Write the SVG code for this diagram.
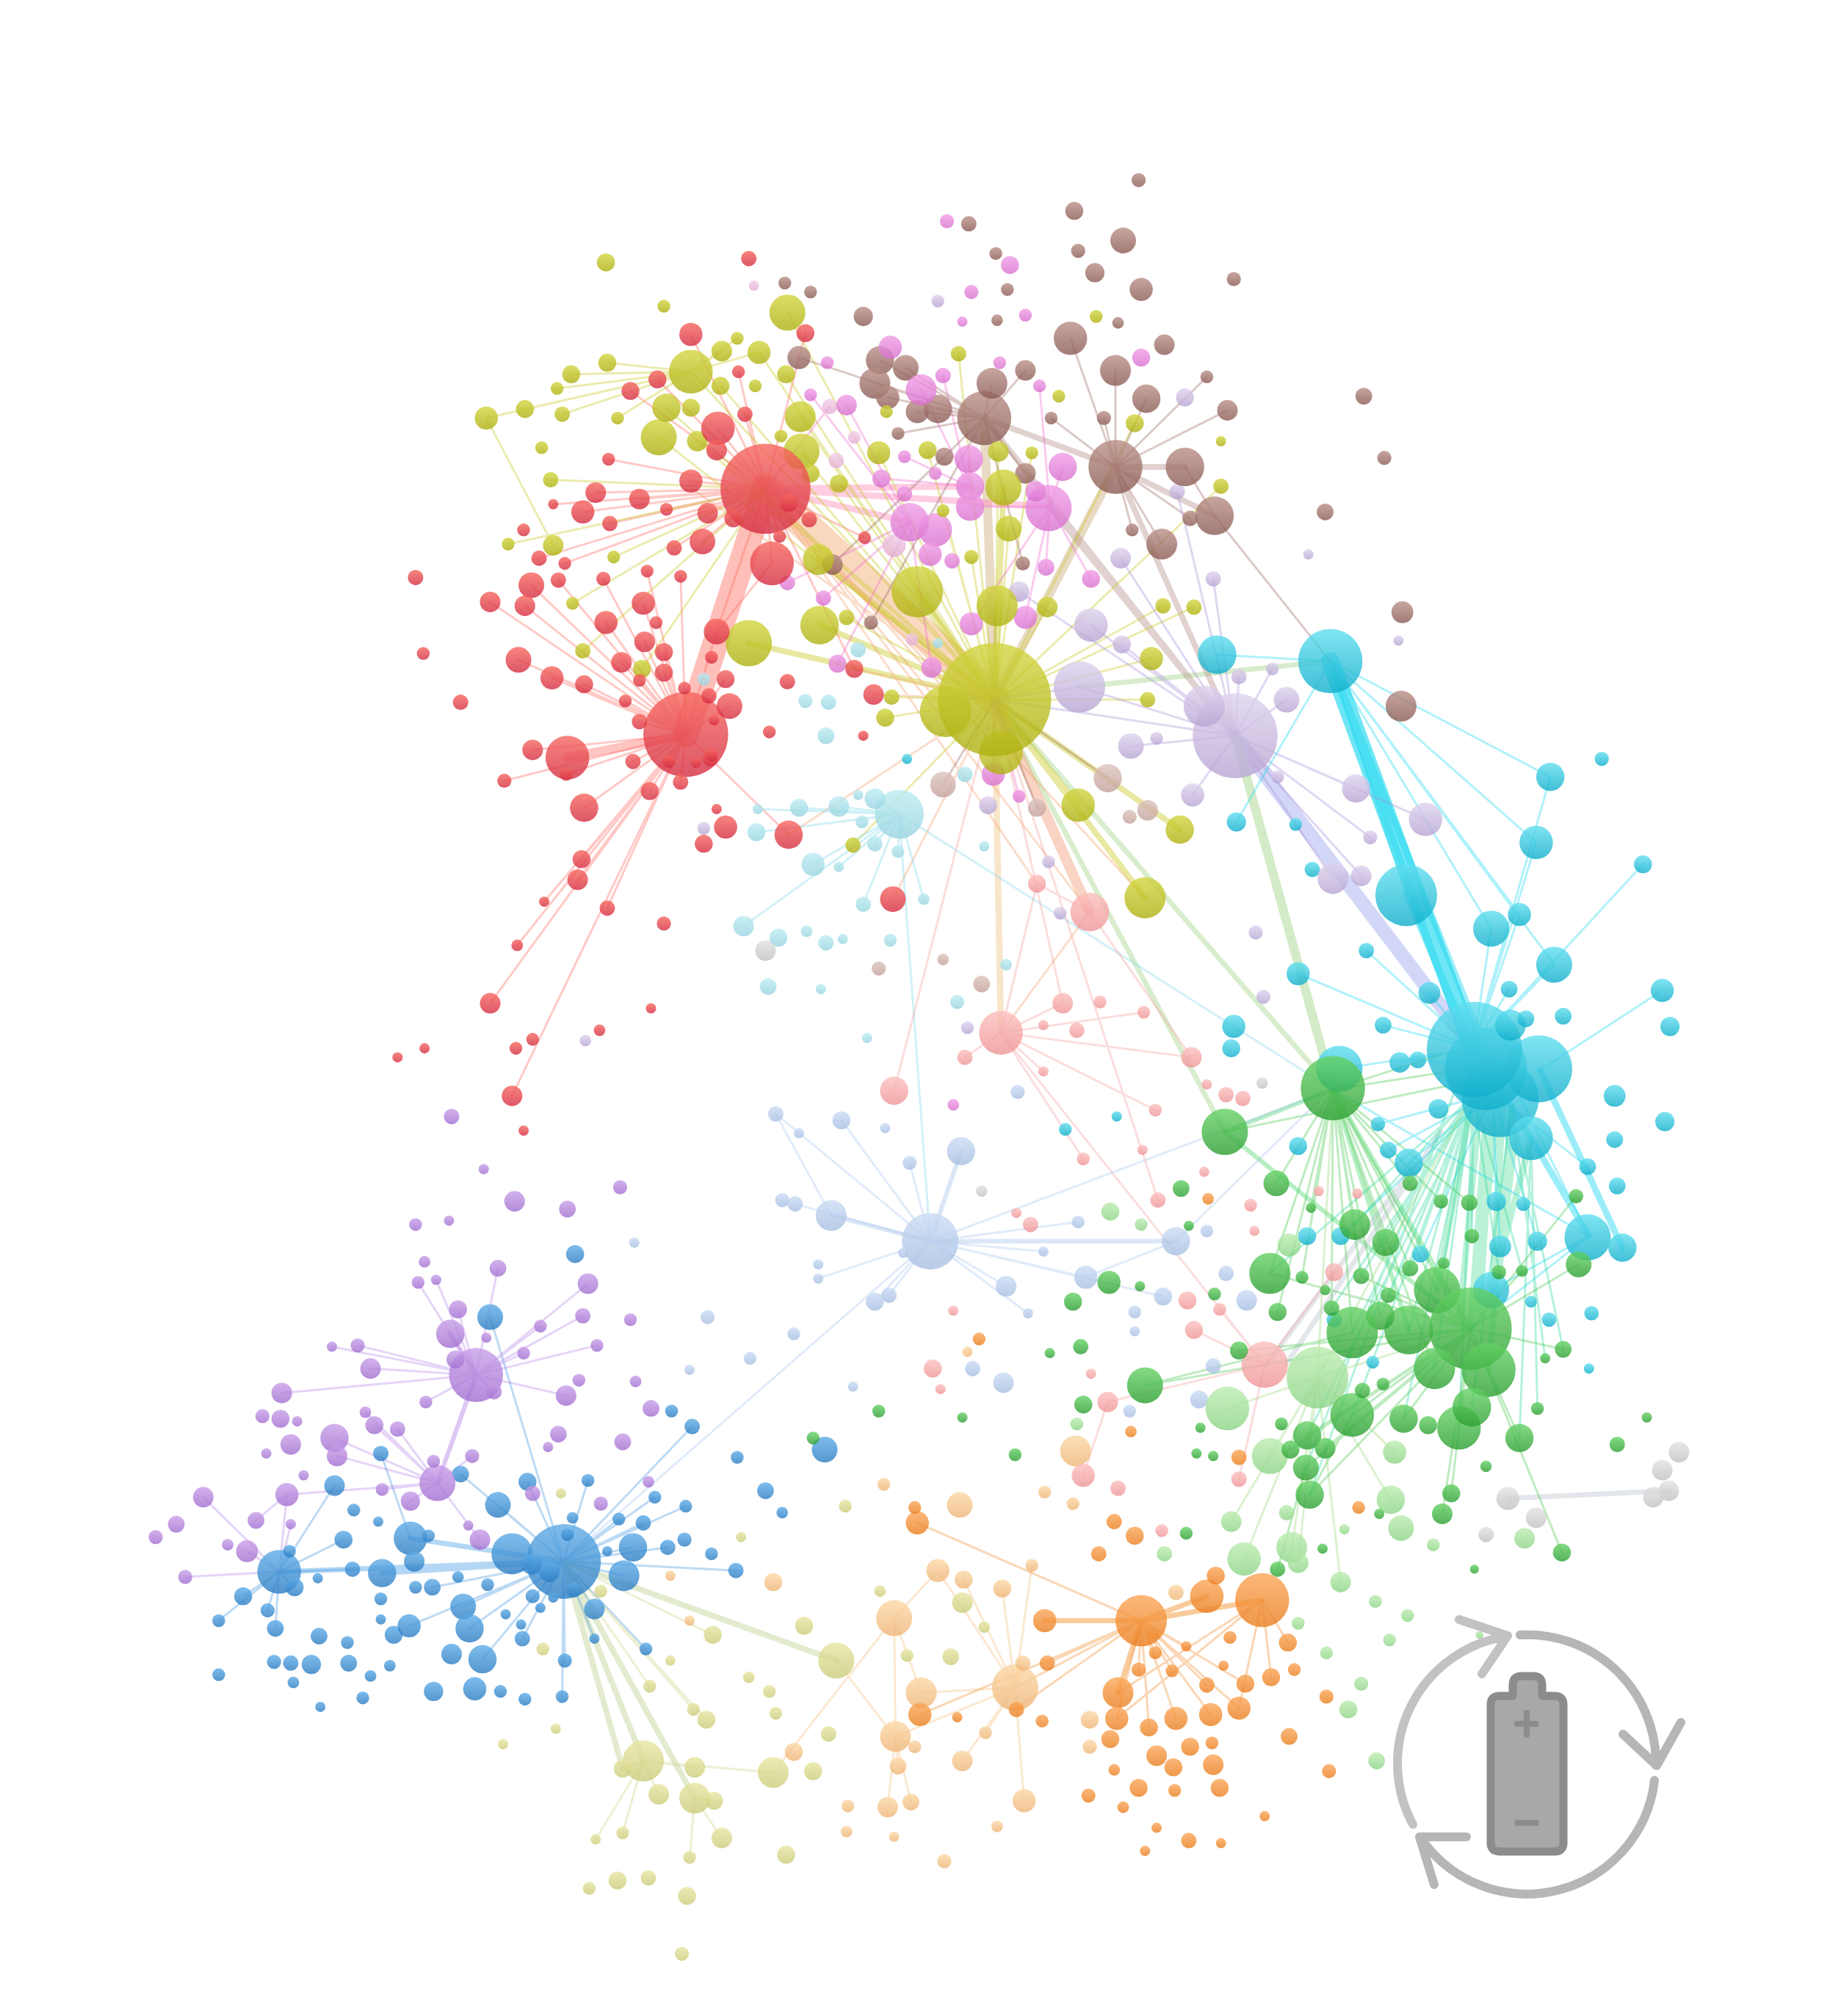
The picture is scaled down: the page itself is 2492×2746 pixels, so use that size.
<svg xmlns="http://www.w3.org/2000/svg" width="2492" height="2746" viewBox="0 0 2492 2746">
<style>
circle{fill-opacity:.8}
.r{fill:url(#gr)}.y{fill:url(#gy)}.p{fill:url(#gp)}.q{fill:url(#gq)}.b{fill:url(#gb)}.c{fill:url(#gc)}.l{fill:url(#gl)}.t{fill:url(#gt)}.n{fill:url(#gn)}.d{fill:url(#gd)}.g{fill:url(#gg)}.k{fill:url(#gk)}.s{fill:url(#gs)}.v{fill:url(#gv)}.h{fill:url(#gh)}.u{fill:url(#gu)}.m{fill:url(#gm)}.w{fill:url(#gw)}.o{fill:url(#go)}
#edges path{fill:none;stroke-linecap:round;stroke-opacity:.36;stroke-width:1.7}
.icon{fill:none;stroke:#b6b6b6;stroke-width:12;stroke-linecap:round;stroke-linejoin:round}
</style>
<defs>
<linearGradient id="gr" x1="0" y1="0" x2="0" y2="1"><stop offset="0" stop-color="#f7665e"/><stop offset="1" stop-color="#d42c40"/></linearGradient>
<linearGradient id="gy" x1="0" y1="0" x2="0" y2="1"><stop offset="0" stop-color="#d2d540"/><stop offset="1" stop-color="#aeb010"/></linearGradient>
<linearGradient id="gp" x1="0" y1="0" x2="0" y2="1"><stop offset="0" stop-color="#f09ce6"/><stop offset="1" stop-color="#d870ce"/></linearGradient>
<linearGradient id="gq" x1="0" y1="0" x2="0" y2="1"><stop offset="0" stop-color="#f2cee8"/><stop offset="1" stop-color="#e4acd6"/></linearGradient>
<linearGradient id="gb" x1="0" y1="0" x2="0" y2="1"><stop offset="0" stop-color="#b98f86"/><stop offset="1" stop-color="#8a5a54"/></linearGradient>
<linearGradient id="gc" x1="0" y1="0" x2="0" y2="1"><stop offset="0" stop-color="#dcc2bc"/><stop offset="1" stop-color="#c2a09a"/></linearGradient>
<linearGradient id="gl" x1="0" y1="0" x2="0" y2="1"><stop offset="0" stop-color="#ded2ee"/><stop offset="1" stop-color="#b6a4d2"/></linearGradient>
<linearGradient id="gt" x1="0" y1="0" x2="0" y2="1"><stop offset="0" stop-color="#bcecf2"/><stop offset="1" stop-color="#98d4e0"/></linearGradient>
<linearGradient id="gn" x1="0" y1="0" x2="0" y2="1"><stop offset="0" stop-color="#60deef"/><stop offset="1" stop-color="#10aecb"/></linearGradient>
<linearGradient id="gd" x1="0" y1="0" x2="0" y2="1"><stop offset="0" stop-color="#66d266"/><stop offset="1" stop-color="#2a9e30"/></linearGradient>
<linearGradient id="gg" x1="0" y1="0" x2="0" y2="1"><stop offset="0" stop-color="#bcecb0"/><stop offset="1" stop-color="#8cd486"/></linearGradient>
<linearGradient id="gk" x1="0" y1="0" x2="0" y2="1"><stop offset="0" stop-color="#fcc0be"/><stop offset="1" stop-color="#ee9496"/></linearGradient>
<linearGradient id="gs" x1="0" y1="0" x2="0" y2="1"><stop offset="0" stop-color="#cadcf4"/><stop offset="1" stop-color="#a8bee2"/></linearGradient>
<linearGradient id="gv" x1="0" y1="0" x2="0" y2="1"><stop offset="0" stop-color="#e2e2e2"/><stop offset="1" stop-color="#c0c0c0"/></linearGradient>
<linearGradient id="gh" x1="0" y1="0" x2="0" y2="1"><stop offset="0" stop-color="#5eace8"/><stop offset="1" stop-color="#2a7cc2"/></linearGradient>
<linearGradient id="gu" x1="0" y1="0" x2="0" y2="1"><stop offset="0" stop-color="#c89ee8"/><stop offset="1" stop-color="#a06ed0"/></linearGradient>
<linearGradient id="gm" x1="0" y1="0" x2="0" y2="1"><stop offset="0" stop-color="#e6e6a2"/><stop offset="1" stop-color="#cbcb7a"/></linearGradient>
<linearGradient id="gw" x1="0" y1="0" x2="0" y2="1"><stop offset="0" stop-color="#fcd8a6"/><stop offset="1" stop-color="#eeb476"/></linearGradient>
<linearGradient id="go" x1="0" y1="0" x2="0" y2="1"><stop offset="0" stop-color="#fba658"/><stop offset="1" stop-color="#ea7e1e"/></linearGradient>
</defs>
<g transform="scale(1.752)">
<g id="edges">
<path stroke="#ff9c94" style="stroke-width:20;stroke-opacity:.65" d="M533 571L595 380"/>
<path stroke="#f4b888" style="stroke-width:24;stroke-opacity:.55" d="M595 380L773 544"/>
<path stroke="#ff8c84" style="stroke-width:7;stroke-opacity:.5" d="M533 571L441 589"/>
<path stroke="#20d8f0" style="stroke-width:14;stroke-opacity:.65" d="M1034 514L1145 815"/>
<path stroke="#a8b0f0" style="stroke-width:11;stroke-opacity:.5" d="M960 572L1145 815"/>
<path stroke="#20d8f0" style="stroke-width:5;stroke-opacity:.45" d="M1034 514L1168 850M1034 514L1145 830M1093 696L1145 815M1145 815L1190 885M1190 885L1235 961M1197 832L1261 970"/>
<path stroke="#a8d890" style="stroke-width:7;stroke-opacity:.5" d="M960 572L1036 847"/>
<path stroke="#a8d890" style="stroke-width:4;stroke-opacity:.45" d="M773 544L1036 847M773 544L952 880M839 534L1034 514"/>
<path stroke="#f0c88c" style="stroke-width:5;stroke-opacity:.45" d="M773 544L778 803"/>
<path stroke="#f4a888" style="stroke-width:8;stroke-opacity:.5" d="M773 544L847 709"/>
<path stroke="#c8c820" style="stroke-width:4.5;stroke-opacity:.42" d="M773 544L890 698M773 544L917 645M773 544L838 626M773 544L713 460M773 544L775 471M773 544L637 486M773 544L582 500M773 544L636 435M773 544L780 379"/>
<path stroke="#c8a870" style="stroke-width:7;stroke-opacity:.42" d="M765 325L773 544M867 363L773 544"/>
<path stroke="#ff88b8" style="stroke-width:5;stroke-opacity:.42" d="M595 380L816 394M595 380L754 378M595 380L707 406"/>
<path stroke="#b89490" style="stroke-width:4.5;stroke-opacity:.42" d="M867 363L765 325M867 363L921 363M867 363L944 401M816 394L960 572M867 363L960 572M765 325L960 572"/>
<path stroke="#b8d0f0" style="stroke-width:3.5;stroke-opacity:.5" d="M723 965L646 945M723 965L914 965M723 965L747 895"/>
<path stroke="#68b0ea" style="stroke-width:4;stroke-opacity:.5" d="M217 1222L438 1214M398 1208L438 1214M297 1223L438 1214M319 1196L438 1214"/>
<path stroke="#c8d8a0" style="stroke-width:4.5;stroke-opacity:.5" d="M438 1214L650 1291M438 1214L500 1369M438 1214L540 1398M438 1214L484 1375"/>
<path stroke="#c090e8" style="stroke-width:3.5;stroke-opacity:.5" d="M370 1069L340 1153M370 1069L350 1037"/>
<path stroke="#f49838" style="stroke-width:4;stroke-opacity:.5" d="M887 1260L981 1244M887 1260L938 1241M887 1260L869 1316M887 1260L812 1260"/>
<path stroke="#40d890" style="stroke-width:5;stroke-opacity:.36" d="M1166 854L1143 1033M1157 840L1143 1033M1145 850L1117 1003M1175 860L1157 1065M1150 860L1135 1020M1160 860L1150 1020M1168 860L1160 1005M1178 880L1165 990M1190 885L1160 1000"/>
<path stroke="#50d870" style="stroke-width:3.5;stroke-opacity:.42" d="M952 880L1036 847M1036 847L1143 1033M1036 847L1095 1034M952 880L1143 1033"/>
<path stroke="#c8d0d8" style="stroke-width:4;stroke-opacity:.5" d="M1100 905L985 1060M1120 880L1000 1060M1172 1165L1297 1159"/>
<path stroke="#ff6860" d="M533 571L454 628M533 571L414 583M533 571L505 615M533 571L452 668M533 571L449 684M533 571L423 701M533 571L402 735M533 571L381 780M533 571L472 706M533 571L398 852M533 571L403 513M533 571L429 527M533 571L454 532M533 571L471 484M533 571L500 469M533 571L501 499M533 571L483 515M533 571L516 507M533 571L516 523M533 571L497 529M533 571L486 545M533 571L497 561M533 571L532 535M533 571L529 448M533 571L503 444M533 571L469 450M533 571L413 455M533 571L381 468M533 571L434 451M533 571L408 471M533 571L567 549M533 571L557 491M533 571L564 528M533 571L613 649M533 571L492 592M533 571L529 608M533 571L440 602M533 571L392 607M595 380L600 438M595 380L558 333M595 380L537 374M595 380L537 260M595 380L490 304M595 380L511 295M595 380L579 322M595 380L626 259M595 380L497 388M595 380L453 398M595 380L463 383M595 380L546 421M595 380L550 399M595 380L518 396M595 380L613 391M595 380L629 404M595 380L606 417M595 380L664 520M595 380L672 418M595 380L473 357M595 380L474 407M595 380L430 392M595 380L419 434M595 380L557 491M595 380L524 426M595 380L574 289M595 380L439 438M600 438L557 491"/>
<path stroke="#f4a070" d="M613 649L773 544M694 699L773 544M847 709L778 803M773 544L664 520M773 544L679 540M595 380L778 585M595 380L735 553M595 380L806 687M595 380L847 709M773 544L538 380M595 380L890 698"/>
<path stroke="#c8c820" d="M773 544L623 351M773 544L622 324M773 544L537 289M773 544L612 243M773 544L512 340M773 544L653 376M773 544L683 352M773 544L721 350M773 544L776 351M773 544L784 411M773 544L802 352M773 544L882 329M773 544L949 378M773 544L904 471M773 544L928 472M773 544L895 512M773 544L892 544M773 544L814 472M773 544L693 542M773 544L688 558M773 544L663 657M773 544L745 275M773 544L518 317M773 544L542 343M773 544L560 300M773 544L590 274M773 544L658 480M773 544L733 397M773 544L755 433M537 289L472 282M537 289L444 291M537 289L433 302M537 289L408 318M537 289L378 325M537 289L437 322M537 289L480 325M537 289L561 273M537 289L590 274M537 289L573 263M595 380L428 373M595 380L395 423M378 325L430 424M595 380L445 469M595 380L477 433M595 380L453 506M595 380L499 520M773 544L611 291"/>
<path stroke="#f070d0" d="M816 394L826 363M816 394L754 394M816 394L813 441M816 394L848 450M816 394L797 480M816 394L755 485M753 378L753 357M753 378L716 303M753 378L703 355M753 378L685 372M753 378L733 292M816 394L808 300M707 406L658 315M707 406L630 307M707 406L640 465M707 406L612 453M707 406L651 516M707 406L724 519M773 544L772 602M773 544L792 619M595 380L645 316"/>
<path stroke="#9a6a60" d="M867 363L891 310M867 363L867 288M867 363L832 263M867 363L858 325M867 363L817 325M867 363L938 293M867 363L954 319M867 363L903 423M867 363L880 412M867 363L925 403M765 325L771 298M765 325L797 288M765 325L729 318M765 325L713 320M765 325L690 309M765 325L704 286M765 325L680 298M765 325L684 280M765 325L621 278M765 325L698 337M765 325L734 355M765 325L797 368M765 325L795 438M765 325L647 439M765 325L677 484M921 363L944 401M944 401L1034 514M773 544L733 610M773 544L806 628M773 544L861 605"/>
<path stroke="#a890d8" d="M960 572L936 549M960 572L1000 544M960 572L848 486M960 572L879 580M960 572L927 618M960 572L1054 613M960 572L1108 637M960 572L1036 683M960 572L1058 681M960 572L1065 651M960 572L993 604M960 572L963 526M960 572L989 520M960 572L872 501M960 572L871 434M960 572L915 382M960 572L943 450M960 572L792 460M839 534L773 544M839 534L960 572M960 572L773 544"/>
<path stroke="#80d8e8" d="M699 633L680 621M699 633L652 627M699 633L621 628M699 633L589 629M699 633L588 647M699 633L632 672M699 633L652 674M699 633L680 656M699 633L698 662M699 633L671 703M699 633L718 699M699 633L578 720M699 633L723 965M699 633L1036 847"/>
<path stroke="#20d8f0" d="M1034 514L1205 604M1034 514L1194 655M1034 514L1159 722M1034 514L1181 711M1034 514L1208 750M946 509L1034 514M1034 514L1093 696M1145 815L1205 604M1145 815L1194 655M1145 815L1181 711M1145 815L1159 722M1145 815L1208 750M1145 815L1277 672M1197 832L1292 770M1145 815L1062 739M1145 815L1111 772M1145 815L1173 769M1145 815L1186 792M1145 815L1075 797M1145 815L1088 826M1145 815L1041 831M1157 830L1102 824M1160 850L1095 904M1160 850L1079 894M1160 850L1071 874M1160 850L1163 934M1160 850L1166 969M1160 850L1195 965M1160 850L1234 907M1180 850L1235 961M1160 850L1104 975M1160 850L1042 961M1036 847L1235 961M1235 961L1143 1033M1235 961L1159 1003M1009 757L1145 815M961 639L1034 514"/>
<path stroke="#30d8a0" d="M1145 850L1143 934M1145 850L1120 934M1145 850L1096 920M1145 850L1144 961M1145 850L1077 966M1145 850L1053 952M1145 850L1122 982M1145 850L1096 986M1145 850L1058 992M1145 850L1051 1036M1145 850L1095 1034M1145 850L1073 1023M1145 850L1115 1064M1145 850L1079 1007M1145 850L1091 1103M1145 850L1051 1100M1145 850L1134 1110M1145 850L1165 989M1145 850L1183 988M1150 850L987 990M1150 850L1035 1017M1150 850L1016 1116M1175 860L1144 1094M1175 860L1215 1049M1130 850L1015 1141M1130 850L1018 1162M1175 860L1201 1056M1190 885L1195 1095M1190 885L1181 1118"/>
<path stroke="#48c850" d="M1036 847L1053 952M1036 847L1077 966M1036 847L1096 920M1036 847L1019 939M1036 847L992 920M1036 847L987 990M1036 847L1012 993M1036 847L1117 1003M1036 847L1051 1036M1036 847L1073 1023M1036 847L1115 1064M1036 847L1120 934M1036 847L1142 935M1036 847L1157 1065M1036 847L1058 992M1036 847L993 1020M1036 847L1096 986M1036 847L1035 1017M1145 830L1036 847M1120 820L1036 847M1145 840L952 880M1143 1033L1058 992M1143 1033L1079 1007M1143 1033L987 990M1143 1033L1016 1116M1143 1033L1015 1141M1143 1033L1018 1162M1143 1033L1051 1100M1143 1033L1091 1103M1143 1033L1134 1110M1143 1033L1181 1118M1143 1033L1121 1177M1143 1033L1214 1207M1143 1033L1128 1161M1143 1033L1225 930M1143 1033L1227 983M1143 1033L1183 988M1143 1033L1215 1049M1143 1033L890 1077M1143 1033L963 1050M1143 1033L1003 1127M1143 1033L1030 1126M1051 1036L890 1077M1051 1100L1018 1162M1015 1141L993 1220"/>
<path stroke="#9ad880" d="M1024 1071L954 1095M1024 1071L987 1132M1024 1071L967 1212M1024 1071L1004 1203M1024 1071L1009 1215M1024 1071L957 1183M1024 1071L1084 1129M1024 1071L1081 1166M1024 1071L1042 1230M1143 1033L1024 1071M1036 847L1024 1071M1145 850L1024 1071"/>
<path stroke="#f4a0a0" d="M778 803L806 687M778 803L826 780M778 803L750 822M778 803L811 833M778 803L889 787M778 803L926 822M778 803L898 863M778 803L842 901M778 803L983 1061M847 709L926 822M847 709L806 687M773 544L826 780M773 544L695 848M983 1061L928 1034M983 1061L1037 989M983 1061L948 1018M983 1061L861 1090M861 1090L842 1147M983 1061L963 1150M773 544L900 933"/>
<path stroke="#a8c8f0" d="M723 965L603 866M723 965L654 871M723 965L707 904M723 965L618 936M723 965L636 994M723 965L680 1012M723 965L691 1007M723 965L782 1000M723 965L799 1021M723 965L811 973M723 965L844 993M723 965L438 1214M723 965L838 950M914 965L1034 847M646 945L603 866M723 965L1036 847M914 965L844 993M723 965L904 1008"/>
<path stroke="#4898e0" d="M438 1214L381 1024M438 1214L457 1151M438 1214L481 1181M438 1214L500 1184M438 1214L509 1164M438 1214L533 1171M438 1214L519 1203M438 1214L492 1203M438 1214L485 1225M438 1214L462 1251M438 1214L462 1274M438 1214L502 1282M438 1214L439 1291M438 1214L437 1319M438 1214L406 1274M438 1214L375 1290M438 1214L365 1266M438 1214L360 1249M438 1214L387 1170M438 1214L410 1152M438 1214L358 1146M438 1214L336 1234M217 1222L189 1241M217 1222L208 1252M217 1222L229 1234M217 1222L214 1266M217 1222L260 1155M217 1222L267 1197M217 1222L274 1220M217 1222L225 1206M217 1222L170 1260M438 1214L572 1221M438 1214L538 1109M438 1214L318 1264M319 1196L296 1130"/>
<path stroke="#b888e8" d="M370 1069L354 1057M370 1069L356 1018M370 1069L387 986M370 1069L457 998M370 1069L453 1023M370 1069L420 1031M370 1069L407 1052M370 1069L464 1046M370 1069L288 1064M370 1069L278 1046M370 1069L258 1047M370 1069L325 997M370 1069L339 995M370 1069L384 1082M370 1069L440 1085M370 1069L331 1090M340 1153L260 1118M340 1153L262 1132M340 1153L291 1108M340 1153L309 1111M340 1153L284 1098M340 1153L367 1132M340 1153L319 1167M340 1153L373 1197M340 1153L297 1158M340 1153L223 1162M223 1162L199 1182M217 1222L158 1164M217 1222L192 1206M217 1222L144 1226M217 1222L223 1162M370 1069L219 1083M217 1222L226 1185"/>
<path stroke="#d0d488" d="M500 1369L484 1375M500 1369L512 1395M500 1369L484 1425M500 1369L540 1374M500 1369L601 1378M500 1369L463 1430M540 1398L555 1400M540 1398L561 1429M540 1398L536 1444M438 1214L554 1271M438 1214L505 1311M438 1214L549 1337M438 1214L539 1329"/>
<path stroke="#f4c080" d="M789 1312L716 1316M789 1312L795 1293M789 1312L729 1221M789 1312L749 1228M789 1312L779 1235M789 1312L802 1217M789 1312L796 1400M789 1312L766 1347M789 1312L748 1369M789 1312L696 1350M695 1258L729 1221M695 1258L716 1316M695 1258L696 1350M695 1258L601 1378M696 1350L690 1405M696 1350L708 1401M696 1350L698 1373M696 1350L711 1358M650 1291L695 1350"/>
<path stroke="#f08c30" d="M887 1260L713 1184M887 1260L885 1298M887 1260L898 1285M887 1260L911 1299M887 1260L922 1280M887 1260L938 1310M887 1260L968 1309M887 1260L963 1328M887 1260L941 1333M887 1260L914 1336M887 1260L893 1343M887 1260L868 1336M981 1244L869 1316M981 1244L1001 1277M981 1244L963 1328M981 1244L868 1336M981 1244L988 1304M887 1260L814 1293M887 1260L789 1312M887 1260L789 1329M887 1260L715 1333"/>
</g>
<g class="h">
<g id="h1"><circle cx="438" cy="1214" r="29"/></g><g id="h2"><circle cx="217" cy="1222" r="17"/></g><g id="h3"><circle cx="398" cy="1208" r="16"/></g><g id="h4"><circle cx="319" cy="1196" r="13"/></g><g id="h5"><circle cx="297" cy="1223" r="11"/></g><g id="h6"><circle cx="485" cy="1225" r="12"/></g><g id="h7"><circle cx="492" cy="1203" r="11"/></g><g id="h8"><circle cx="387" cy="1170" r="10"/></g><g id="h9"><circle cx="410" cy="1152" r="7"/></g><g id="h10"><circle cx="457" cy="1151" r="5"/></g><g id="h11"><circle cx="481" cy="1181" r="5"/></g><g id="h12"><circle cx="500" cy="1184" r="6"/></g><g id="h13"><circle cx="509" cy="1164" r="5"/></g><g id="h14"><circle cx="533" cy="1171" r="5"/></g><g id="h15"><circle cx="519" cy="1203" r="6"/></g><g id="h16"><circle cx="532" cy="1197" r="5.5"/></g><g id="h17"><circle cx="553" cy="1208" r="5"/></g><g id="h18"><circle cx="572" cy="1221" r="6"/></g><g id="h19"><circle cx="608" cy="1176" r="4.5"/></g><g id="h20"><circle cx="595" cy="1159" r="6.5"/></g><g id="h21"><circle cx="641" cy="1127" r="10"/></g><g id="h22"><circle cx="573" cy="1133" r="5"/></g><g id="h23"><circle cx="538" cy="1109" r="6"/></g><g id="h24"><circle cx="522" cy="1097" r="5"/></g><g id="h25"><circle cx="447" cy="975" r="7"/></g><g id="h26"><circle cx="381" cy="1024" r="10"/></g><g id="h27"><circle cx="296" cy="1130" r="6"/></g><g id="h28"><circle cx="260" cy="1155" r="8"/></g><g id="h29"><circle cx="275" cy="1174" r="5"/></g><g id="h30"><circle cx="267" cy="1197" r="7"/></g><g id="h31"><circle cx="294" cy="1183" r="4"/></g><g id="h32"><circle cx="225" cy="1206" r="5"/></g><g id="h33"><circle cx="229" cy="1234" r="7"/></g><g id="h34"><circle cx="247" cy="1227" r="4"/></g><g id="h35"><circle cx="274" cy="1220" r="6"/></g><g id="h36"><circle cx="189" cy="1241" r="7"/></g><g id="h37"><circle cx="208" cy="1252" r="5.5"/></g><g id="h38"><circle cx="170" cy="1260" r="5"/></g><g id="h39"><circle cx="214" cy="1266" r="6.5"/></g><g id="h40"><circle cx="248" cy="1272" r="6.5"/></g><g id="h41"><circle cx="270" cy="1277" r="5"/></g><g id="h42"><circle cx="242" cy="1294" r="7.5"/></g><g id="h43"><circle cx="226" cy="1293" r="6"/></g><g id="h44"><circle cx="213" cy="1292" r="5.5"/></g><g id="h45"><circle cx="228" cy="1308" r="4.5"/></g><g id="h46"><circle cx="170" cy="1302" r="5"/></g><g id="h47"><circle cx="271" cy="1293" r="6.5"/></g><g id="h48"><circle cx="288" cy="1303" r="4.5"/></g><g id="h49"><circle cx="303" cy="1295" r="4.5"/></g><g id="h50"><circle cx="306" cy="1271" r="7"/></g><g id="h51"><circle cx="318" cy="1264" r="9"/></g><g id="h52"><circle cx="296" cy="1259" r="4"/></g><g id="h53"><circle cx="296" cy="1243" r="5"/></g><g id="h54"><circle cx="322" cy="1214" r="8"/></g><g id="h55"><circle cx="333" cy="1194" r="5"/></g><g id="h56"><circle cx="323" cy="1234" r="5"/></g><g id="h57"><circle cx="336" cy="1234" r="6.5"/></g><g id="h58"><circle cx="356" cy="1226" r="4.5"/></g><g id="h59"><circle cx="360" cy="1249" r="10"/></g><g id="h60"><circle cx="365" cy="1266" r="11"/></g><g id="h61"><circle cx="351" cy="1286" r="8"/></g><g id="h62"><circle cx="375" cy="1290" r="11"/></g><g id="h63"><circle cx="369" cy="1313" r="9"/></g><g id="h64"><circle cx="337" cy="1315" r="7.5"/></g><g id="h65"><circle cx="249" cy="1327" r="4"/></g><g id="h66"><circle cx="282" cy="1320" r="5"/></g><g id="h67"><circle cx="389" cy="1315" r="5"/></g><g id="h68"><circle cx="408" cy="1321" r="5"/></g><g id="h69"><circle cx="406" cy="1274" r="6"/></g><g id="h70"><circle cx="414" cy="1241" r="5.5"/></g><g id="h71"><circle cx="379" cy="1232" r="5"/></g><g id="h72"><circle cx="405" cy="1263" r="4"/></g><g id="h73"><circle cx="439" cy="1291" r="5.5"/></g><g id="h74"><circle cx="437" cy="1319" r="5"/></g><g id="h75"><circle cx="462" cy="1251" r="8"/></g><g id="h76"><circle cx="462" cy="1274" r="4"/></g><g id="h77"><circle cx="502" cy="1282" r="5"/></g><g id="h78"><circle cx="427" cy="1222" r="8"/></g><g id="h79"><circle cx="446" cy="1236" r="6"/></g><g id="h80"><circle cx="430" cy="1242" r="4"/></g><g id="h81"><circle cx="413" cy="1216" r="8"/></g><g id="h82"><circle cx="358" cy="1146" r="6.5"/></g><g id="h83"><circle cx="441" cy="1193" r="5"/></g><g id="h84"><circle cx="472" cy="1206" r="4"/></g><g id="h85"><circle cx="445" cy="1180" r="4.5"/></g><g id="h86"><circle cx="393" cy="1255" r="4"/></g><g id="h87"><circle cx="420" cy="1250" r="4"/></g>
</g>
<g class="u">
<g id="u1"><circle cx="370" cy="1069" r="21"/></g><g id="u2"><circle cx="340" cy="1153" r="14"/></g><g id="u3"><circle cx="350" cy="1037" r="11"/></g><g id="u4"><circle cx="356" cy="1018" r="7"/></g><g id="u5"><circle cx="378" cy="1040" r="4"/></g><g id="u6"><circle cx="354" cy="1057" r="7"/></g><g id="u7"><circle cx="407" cy="1052" r="5"/></g><g id="u8"><circle cx="420" cy="1031" r="5"/></g><g id="u9"><circle cx="453" cy="1023" r="6"/></g><g id="u10"><circle cx="457" cy="998" r="8"/></g><g id="u11"><circle cx="464" cy="1046" r="5"/></g><g id="u12"><circle cx="490" cy="1026" r="5"/></g><g id="u13"><circle cx="387" cy="986" r="6.5"/></g><g id="u14"><circle cx="339" cy="995" r="4"/></g><g id="u15"><circle cx="330" cy="981" r="4.5"/></g><g id="u16"><circle cx="325" cy="997" r="5"/></g><g id="u17"><circle cx="441" cy="940" r="6.5"/></g><g id="u18"><circle cx="400" cy="934" r="8"/></g><g id="u19"><circle cx="349" cy="949" r="4"/></g><g id="u20"><circle cx="323" cy="952" r="5"/></g><g id="u21"><circle cx="482" cy="923" r="5.5"/></g><g id="u22"><circle cx="376" cy="909" r="4"/></g><g id="u23"><circle cx="351" cy="868" r="6"/></g><g id="u24"><circle cx="288" cy="1064" r="8"/></g><g id="u25"><circle cx="278" cy="1046" r="5.5"/></g><g id="u26"><circle cx="258" cy="1047" r="4"/></g><g id="u27"><circle cx="219" cy="1083" r="8"/></g><g id="u28"><circle cx="204" cy="1101" r="5.5"/></g><g id="u29"><circle cx="218" cy="1103" r="7"/></g><g id="u30"><circle cx="231" cy="1105" r="4"/></g><g id="u31"><circle cx="226" cy="1123" r="8"/></g><g id="u32"><circle cx="207" cy="1130" r="4"/></g><g id="u33"><circle cx="260" cy="1118" r="11"/></g><g id="u34"><circle cx="262" cy="1132" r="8"/></g><g id="u35"><circle cx="284" cy="1098" r="4.5"/></g><g id="u36"><circle cx="291" cy="1108" r="7"/></g><g id="u37"><circle cx="309" cy="1111" r="6"/></g><g id="u38"><circle cx="331" cy="1090" r="5"/></g><g id="u39"><circle cx="384" cy="1082" r="6"/></g><g id="u40"><circle cx="440" cy="1085" r="8"/></g><g id="u41"><circle cx="450" cy="1073" r="5"/></g><g id="u42"><circle cx="434" cy="1115" r="6.5"/></g><g id="u43"><circle cx="484" cy="1121" r="6.5"/></g><g id="u44"><circle cx="426" cy="1125" r="4"/></g><g id="u45"><circle cx="506" cy="1095" r="6.5"/></g><g id="u46"><circle cx="494" cy="1074" r="4.5"/></g><g id="u47"><circle cx="504" cy="1152" r="4.5"/></g><g id="u48"><circle cx="467" cy="1169" r="5.5"/></g><g id="u49"><circle cx="414" cy="1161" r="6"/></g><g id="u50"><circle cx="367" cy="1132" r="5.5"/></g><g id="u51"><circle cx="337" cy="1136" r="5"/></g><g id="u52"><circle cx="319" cy="1167" r="7.5"/></g><g id="u53"><circle cx="373" cy="1197" r="8"/></g><g id="u54"><circle cx="364" cy="1186" r="4"/></g><g id="u55"><circle cx="297" cy="1158" r="5"/></g><g id="u56"><circle cx="236" cy="1147" r="4"/></g><g id="u57"><circle cx="223" cy="1162" r="9"/></g><g id="u58"><circle cx="199" cy="1182" r="6.5"/></g><g id="u59"><circle cx="226" cy="1185" r="4"/></g><g id="u60"><circle cx="158" cy="1164" r="8"/></g><g id="u61"><circle cx="137" cy="1185" r="6.5"/></g><g id="u62"><circle cx="121" cy="1195" r="5.5"/></g><g id="u63"><circle cx="177" cy="1201" r="4.5"/></g><g id="u64"><circle cx="192" cy="1206" r="8.5"/></g><g id="u65"><circle cx="144" cy="1226" r="5.5"/></g>
</g>
<g class="m">
<g id="m1"><circle cx="650" cy="1291" r="14"/></g><g id="m2"><circle cx="500" cy="1369" r="16"/></g><g id="m3"><circle cx="540" cy="1398" r="12"/></g><g id="m4"><circle cx="601" cy="1378" r="12"/></g><g id="m5"><circle cx="540" cy="1374" r="8"/></g><g id="m6"><circle cx="484" cy="1375" r="7"/></g><g id="m7"><circle cx="512" cy="1395" r="8"/></g><g id="m8"><circle cx="555" cy="1400" r="7"/></g><g id="m9"><circle cx="561" cy="1429" r="8"/></g><g id="m10"><circle cx="484" cy="1425" r="5"/></g><g id="m11"><circle cx="463" cy="1430" r="4"/></g><g id="m12"><circle cx="536" cy="1444" r="5"/></g><g id="m13"><circle cx="480" cy="1462" r="7"/></g><g id="m14"><circle cx="458" cy="1468" r="5"/></g><g id="m15"><circle cx="504" cy="1460" r="6"/></g><g id="m16"><circle cx="534" cy="1474" r="7"/></g><g id="m17"><circle cx="530" cy="1519" r="5.5"/></g><g id="m18"><circle cx="611" cy="1442" r="7"/></g><g id="m19"><circle cx="632" cy="1377" r="7"/></g><g id="m20"><circle cx="644" cy="1348" r="6"/></g><g id="m21"><circle cx="603" cy="1332" r="5"/></g><g id="m22"><circle cx="598" cy="1315" r="5"/></g><g id="m23"><circle cx="582" cy="1304" r="4.5"/></g><g id="m24"><circle cx="549" cy="1337" r="7"/></g><g id="m25"><circle cx="539" cy="1329" r="5"/></g><g id="m26"><circle cx="554" cy="1271" r="7"/></g><g id="m27"><circle cx="625" cy="1264" r="7"/></g><g id="m28"><circle cx="521" cy="1291" r="4"/></g><g id="m29"><circle cx="505" cy="1311" r="5"/></g><g id="m30"><circle cx="422" cy="1282" r="5"/></g><g id="m31"><circle cx="391" cy="1356" r="4"/></g><g id="m32"><circle cx="432" cy="1344" r="4"/></g><g id="m33"><circle cx="436" cy="1161" r="4"/></g><g id="m34"><circle cx="467" cy="1237" r="5"/></g><g id="m35"><circle cx="576" cy="1195" r="4"/></g><g id="m36"><circle cx="657" cy="1171" r="5"/></g><g id="m37"><circle cx="748" cy="1246" r="8"/></g><g id="m38"><circle cx="739" cy="1288" r="6.5"/></g><g id="m39"><circle cx="765" cy="1265" r="4.5"/></g><g id="m40"><circle cx="684" cy="1237" r="4.5"/></g><g id="m41"><circle cx="705" cy="1287" r="5"/></g>
</g>
<g class="w">
<g id="w1"><circle cx="695" cy="1258" r="14"/></g><g id="w2"><circle cx="789" cy="1312" r="18"/></g><g id="w3"><circle cx="696" cy="1350" r="12"/></g><g id="w4"><circle cx="716" cy="1316" r="12"/></g><g id="w5"><circle cx="729" cy="1221" r="9"/></g><g id="w6"><circle cx="749" cy="1228" r="7"/></g><g id="w7"><circle cx="746" cy="1170" r="10"/></g><g id="w8"><circle cx="779" cy="1235" r="7"/></g><g id="w9"><circle cx="802" cy="1217" r="5"/></g><g id="w10"><circle cx="687" cy="1154" r="5"/></g><g id="w11"><circle cx="601" cy="1230" r="7"/></g><g id="w12"><circle cx="521" cy="1225" r="4"/></g><g id="w13"><circle cx="536" cy="1260" r="4"/></g><g id="w14"><circle cx="617" cy="1362" r="7"/></g><g id="w15"><circle cx="659" cy="1404" r="5"/></g><g id="w16"><circle cx="658" cy="1424" r="4.5"/></g><g id="w17"><circle cx="690" cy="1405" r="8"/></g><g id="w18"><circle cx="708" cy="1401" r="6.5"/></g><g id="w19"><circle cx="695" cy="1428" r="4"/></g><g id="w20"><circle cx="698" cy="1373" r="6.5"/></g><g id="w21"><circle cx="711" cy="1358" r="5"/></g><g id="w22"><circle cx="748" cy="1369" r="8"/></g><g id="w23"><circle cx="766" cy="1347" r="5"/></g><g id="w24"><circle cx="796" cy="1400" r="9"/></g><g id="w25"><circle cx="775" cy="1420" r="4.5"/></g><g id="w26"><circle cx="734" cy="1447" r="5.5"/></g><g id="w27"><circle cx="795" cy="1293" r="6"/></g><g id="w28"><circle cx="836" cy="1128" r="12"/></g><g id="w29"><circle cx="812" cy="1160" r="5"/></g><g id="w30"><circle cx="834" cy="1169" r="5"/></g><g id="w31"><circle cx="847" cy="1337" r="7"/></g><g id="w32"><circle cx="847" cy="1358" r="5.5"/></g><g id="w33"><circle cx="752" cy="1051" r="4"/></g><g id="w34"><circle cx="914" cy="1238" r="6"/></g><g id="w35"><circle cx="897" cy="1270" r="4"/></g>
</g>
<g class="o">
<g id="o1"><circle cx="887" cy="1260" r="20"/></g><g id="o2"><circle cx="981" cy="1244" r="21"/></g><g id="o3"><circle cx="938" cy="1241" r="13"/></g><g id="o4"><circle cx="945" cy="1225" r="7"/></g><g id="o5"><circle cx="812" cy="1260" r="9"/></g><g id="o6"><circle cx="869" cy="1316" r="12"/></g><g id="o7"><circle cx="868" cy="1336" r="9"/></g><g id="o8"><circle cx="863" cy="1352" r="7"/></g><g id="o9"><circle cx="814" cy="1293" r="6"/></g><g id="o10"><circle cx="810" cy="1338" r="5"/></g><g id="o11"><circle cx="790" cy="1329" r="6"/></g><g id="o12"><circle cx="715" cy="1333" r="9"/></g><g id="o13"><circle cx="744" cy="1335" r="4"/></g><g id="o14"><circle cx="713" cy="1184" r="9"/></g><g id="o15"><circle cx="711" cy="1172" r="5"/></g><g id="o16"><circle cx="866" cy="1183" r="6"/></g><g id="o17"><circle cx="882" cy="1194" r="7"/></g><g id="o18"><circle cx="854" cy="1208" r="6"/></g><g id="o19"><circle cx="885" cy="1298" r="5.5"/></g><g id="o20"><circle cx="898" cy="1285" r="5"/></g><g id="o21"><circle cx="911" cy="1299" r="5"/></g><g id="o22"><circle cx="922" cy="1280" r="4"/></g><g id="o23"><circle cx="938" cy="1310" r="6"/></g><g id="o24"><circle cx="951" cy="1295" r="4"/></g><g id="o25"><circle cx="968" cy="1309" r="7"/></g><g id="o26"><circle cx="988" cy="1304" r="7"/></g><g id="o27"><circle cx="1006" cy="1298" r="5"/></g><g id="o28"><circle cx="1001" cy="1277" r="7"/></g><g id="o29"><circle cx="963" cy="1328" r="9"/></g><g id="o30"><circle cx="941" cy="1333" r="9"/></g><g id="o31"><circle cx="914" cy="1336" r="9"/></g><g id="o32"><circle cx="893" cy="1343" r="7"/></g><g id="o33"><circle cx="942" cy="1355" r="5"/></g><g id="o34"><circle cx="925" cy="1358" r="7"/></g><g id="o35"><circle cx="899" cy="1365" r="8"/></g><g id="o36"><circle cx="912" cy="1374" r="7"/></g><g id="o37"><circle cx="943" cy="1372" r="8"/></g><g id="o38"><circle cx="866" cy="1376" r="4.5"/></g><g id="o39"><circle cx="948" cy="1390" r="7"/></g><g id="o40"><circle cx="913" cy="1392" r="5"/></g><g id="o41"><circle cx="885" cy="1390" r="7"/></g><g id="o42"><circle cx="846" cy="1396" r="5.5"/></g><g id="o43"><circle cx="873" cy="1405" r="4.5"/></g><g id="o44"><circle cx="899" cy="1421" r="4"/></g><g id="o45"><circle cx="924" cy="1431" r="6"/></g><g id="o46"><circle cx="949" cy="1433" r="4"/></g><g id="o47"><circle cx="890" cy="1439" r="4"/></g><g id="o48"><circle cx="983" cy="1412" r="4"/></g><g id="o49"><circle cx="1033" cy="1377" r="5.5"/></g><g id="o50"><circle cx="1002" cy="1350" r="6.5"/></g><g id="o51"><circle cx="1031" cy="1319" r="5.5"/></g><g id="o52"><circle cx="1056" cy="1172" r="5"/></g><g id="o53"><circle cx="963" cy="1133" r="6"/></g><g id="o54"><circle cx="879" cy="1113" r="4.5"/></g><g id="o55"><circle cx="939" cy="932" r="4.5"/></g><g id="o56"><circle cx="761" cy="1041" r="5"/></g><g id="o57"><circle cx="956" cy="1273" r="5"/></g>
</g>
<g class="s">
<g id="s1"><circle cx="723" cy="965" r="22"/></g><g id="s2"><circle cx="646" cy="945" r="12"/></g><g id="s3"><circle cx="914" cy="965" r="11"/></g><g id="s4"><circle cx="747" cy="895" r="11"/></g><g id="s5"><circle cx="654" cy="871" r="7"/></g><g id="s6"><circle cx="603" cy="866" r="6"/></g><g id="s7"><circle cx="621" cy="881" r="4"/></g><g id="s8"><circle cx="688" cy="877" r="4"/></g><g id="s9"><circle cx="707" cy="904" r="5.5"/></g><g id="s10"><circle cx="608" cy="933" r="5.5"/></g><g id="s11"><circle cx="618" cy="936" r="6"/></g><g id="s12"><circle cx="702" cy="974" r="4"/></g><g id="s13"><circle cx="636" cy="983" r="4"/></g><g id="s14"><circle cx="636" cy="994" r="4"/></g><g id="s15"><circle cx="680" cy="1012" r="7"/></g><g id="s16"><circle cx="691" cy="1007" r="6"/></g><g id="s17"><circle cx="782" cy="1000" r="8"/></g><g id="s18"><circle cx="799" cy="1021" r="4"/></g><g id="s19"><circle cx="811" cy="973" r="4"/></g><g id="s20"><circle cx="838" cy="950" r="5"/></g><g id="s21"><circle cx="844" cy="993" r="9"/></g><g id="s22"><circle cx="882" cy="1020" r="5"/></g><g id="s23"><circle cx="904" cy="1008" r="7"/></g><g id="s24"><circle cx="953" cy="990" r="6"/></g><g id="s25"><circle cx="969" cy="1011" r="8"/></g><g id="s26"><circle cx="938" cy="957" r="5"/></g><g id="s27"><circle cx="780" cy="1075" r="8"/></g><g id="s28"><circle cx="756" cy="1064" r="6"/></g><g id="s29"><circle cx="663" cy="1078" r="4"/></g><g id="s30"><circle cx="583" cy="1056" r="5"/></g><g id="s31"><circle cx="617" cy="1037" r="5"/></g><g id="s32"><circle cx="550" cy="1024" r="5.5"/></g><g id="s33"><circle cx="536" cy="1065" r="4"/></g><g id="s34"><circle cx="493" cy="966" r="4"/></g><g id="s35"><circle cx="878" cy="1097" r="5"/></g><g id="s36"><circle cx="932" cy="1088" r="7"/></g><g id="s37"><circle cx="791" cy="849" r="5.5"/></g><g id="s38"><circle cx="943" cy="1062" r="6"/></g><g id="s39"><circle cx="882" cy="1035" r="4"/></g>
</g>
<g class="t">
<g id="t1"><circle cx="699" cy="633" r="19"/></g><g id="t2"><circle cx="680" cy="621" r="8"/></g><g id="t3"><circle cx="652" cy="627" r="8"/></g><g id="t4"><circle cx="621" cy="628" r="7"/></g><g id="t5"><circle cx="589" cy="629" r="4"/></g><g id="t6"><circle cx="588" cy="647" r="7"/></g><g id="t7"><circle cx="632" cy="672" r="9"/></g><g id="t8"><circle cx="652" cy="674" r="4"/></g><g id="t9"><circle cx="680" cy="656" r="6"/></g><g id="t10"><circle cx="698" cy="662" r="5"/></g><g id="t11"><circle cx="671" cy="703" r="6"/></g><g id="t12"><circle cx="718" cy="699" r="4.5"/></g><g id="t13"><circle cx="578" cy="720" r="8"/></g><g id="t14"><circle cx="605" cy="729" r="7"/></g><g id="t15"><circle cx="627" cy="724" r="4.5"/></g><g id="t16"><circle cx="642" cy="733" r="6"/></g><g id="t17"><circle cx="655" cy="730" r="4"/></g><g id="t18"><circle cx="692" cy="731" r="5"/></g><g id="t19"><circle cx="597" cy="767" r="6.5"/></g><g id="t20"><circle cx="638" cy="769" r="4"/></g><g id="t21"><circle cx="782" cy="750" r="4.5"/></g><g id="t22"><circle cx="744" cy="779" r="5.5"/></g><g id="t23"><circle cx="674" cy="807" r="4"/></g><g id="t24"><circle cx="626" cy="545" r="5.5"/></g><g id="t25"><circle cx="644" cy="546" r="6"/></g><g id="t26"><circle cx="642" cy="572" r="6.5"/></g><g id="t27"><circle cx="667" cy="505" r="6"/></g><g id="t28"><circle cx="729" cy="500" r="4"/></g><g id="t29"><circle cx="750" cy="602" r="6"/></g><g id="t30"><circle cx="765" cy="658" r="4"/></g><g id="t31"><circle cx="670" cy="639" r="5"/></g><g id="t32"><circle cx="667" cy="618" r="4"/></g><g id="t33"><circle cx="547" cy="528" r="5"/></g>
</g>
<g class="v">
<g id="v1"><circle cx="595" cy="739" r="8"/></g><g id="v2"><circle cx="981" cy="842" r="4.5"/></g><g id="v3"><circle cx="763" cy="926" r="4.5"/></g><g id="v4"><circle cx="1305" cy="1129" r="8"/></g><g id="v5"><circle cx="1292" cy="1143" r="8"/></g><g id="v6"><circle cx="1297" cy="1159" r="8"/></g><g id="v7"><circle cx="1285" cy="1164" r="8"/></g><g id="v8"><circle cx="1172" cy="1165" r="9"/></g><g id="v9"><circle cx="1194" cy="1180" r="8"/></g><g id="v10"><circle cx="1155" cy="1193" r="6"/></g>
</g>
<g class="k">
<g id="k1"><circle cx="778" cy="803" r="17"/></g><g id="k2"><circle cx="847" cy="709" r="15"/></g><g id="k3"><circle cx="983" cy="1061" r="18"/></g><g id="k4"><circle cx="695" cy="848" r="11"/></g><g id="k5"><circle cx="806" cy="687" r="7"/></g><g id="k6"><circle cx="826" cy="780" r="8"/></g><g id="k7"><circle cx="855" cy="779" r="5"/></g><g id="k8"><circle cx="837" cy="801" r="6"/></g><g id="k9"><circle cx="811" cy="797" r="4"/></g><g id="k10"><circle cx="750" cy="822" r="6"/></g><g id="k11"><circle cx="811" cy="833" r="4"/></g><g id="k12"><circle cx="889" cy="787" r="5"/></g><g id="k13"><circle cx="926" cy="822" r="8"/></g><g id="k14"><circle cx="938" cy="843" r="4"/></g><g id="k15"><circle cx="953" cy="851" r="6"/></g><g id="k16"><circle cx="966" cy="854" r="6"/></g><g id="k17"><circle cx="898" cy="863" r="5"/></g><g id="k18"><circle cx="888" cy="894" r="4"/></g><g id="k19"><circle cx="842" cy="901" r="5"/></g><g id="k20"><circle cx="936" cy="911" r="4"/></g><g id="k21"><circle cx="900" cy="933" r="6"/></g><g id="k22"><circle cx="790" cy="943" r="4"/></g><g id="k23"><circle cx="801" cy="952" r="6"/></g><g id="k24"><circle cx="972" cy="937" r="5"/></g><g id="k25"><circle cx="975" cy="957" r="4"/></g><g id="k26"><circle cx="1025" cy="926" r="4"/></g><g id="k27"><circle cx="1055" cy="928" r="4"/></g><g id="k28"><circle cx="1037" cy="989" r="7"/></g><g id="k29"><circle cx="948" cy="1018" r="5"/></g><g id="k30"><circle cx="928" cy="1034" r="7"/></g><g id="k31"><circle cx="741" cy="1019" r="4"/></g><g id="k32"><circle cx="725" cy="1064" r="7"/></g><g id="k33"><circle cx="731" cy="1080" r="4"/></g><g id="k34"><circle cx="861" cy="1090" r="8"/></g><g id="k35"><circle cx="842" cy="1147" r="9"/></g><g id="k36"><circle cx="869" cy="1157" r="6"/></g><g id="k37"><circle cx="848" cy="1068" r="4"/></g><g id="k38"><circle cx="903" cy="1190" r="5"/></g><g id="k39"><circle cx="963" cy="1150" r="6"/></g><g id="k40"><circle cx="923" cy="1011" r="7"/></g>
</g>
<g class="g">
<g id="g1"><circle cx="1024" cy="1071" r="24"/></g><g id="g2"><circle cx="954" cy="1095" r="17"/></g><g id="g3"><circle cx="987" cy="1132" r="14"/></g><g id="g4"><circle cx="967" cy="1212" r="13"/></g><g id="g5"><circle cx="1004" cy="1203" r="12"/></g><g id="g6"><circle cx="1009" cy="1215" r="8"/></g><g id="g7"><circle cx="957" cy="1183" r="8"/></g><g id="g8"><circle cx="1084" cy="1129" r="9"/></g><g id="g9"><circle cx="1081" cy="1166" r="11"/></g><g id="g10"><circle cx="1089" cy="1188" r="10"/></g><g id="g11"><circle cx="1042" cy="1230" r="8"/></g><g id="g12"><circle cx="1069" cy="1245" r="5"/></g><g id="g13"><circle cx="1094" cy="1256" r="5"/></g><g id="g14"><circle cx="1080" cy="1275" r="5"/></g><g id="g15"><circle cx="1031" cy="1285" r="5"/></g><g id="g16"><circle cx="1058" cy="1309" r="5.5"/></g><g id="g17"><circle cx="1048" cy="1329" r="7"/></g><g id="g18"><circle cx="1070" cy="1369" r="6.5"/></g><g id="g19"><circle cx="1009" cy="1262" r="5"/></g><g id="g20"><circle cx="1114" cy="1201" r="5"/></g><g id="g21"><circle cx="1185" cy="1196" r="8"/></g><g id="g22"><circle cx="1002" cy="968" r="9"/></g><g id="g23"><circle cx="863" cy="942" r="7"/></g><g id="g24"><circle cx="887" cy="952" r="5"/></g><g id="g25"><circle cx="837" cy="1107" r="5"/></g><g id="g26"><circle cx="905" cy="1208" r="6"/></g><g id="g27"><circle cx="1045" cy="1189" r="4"/></g><g id="g28"><circle cx="1000" cy="1176" r="6"/></g><g id="g29"><circle cx="1150" cy="1271" r="3"/></g>
</g>
<g class="n">
<g id="n1"><circle cx="1166" cy="854" r="30"/></g><g id="n2"><circle cx="1155" cy="831" r="32"/></g><g id="n3"><circle cx="1196" cy="831" r="26"/></g><g id="n4"><circle cx="1146" cy="816" r="37"/></g><g id="n5"><circle cx="1190" cy="885" r="17"/></g><g id="n6"><circle cx="1095" cy="904" r="11"/></g><g id="n7"><circle cx="1118" cy="862" r="7.6"/></g><g id="n8"><circle cx="1234" cy="962" r="18"/></g><g id="n9"><circle cx="1261" cy="970" r="11"/></g><g id="n10"><circle cx="1159" cy="1003" r="14"/></g><g id="n11"><circle cx="1111" cy="772" r="8.5"/></g><g id="n12"><circle cx="1173" cy="769" r="6.5"/></g><g id="n13"><circle cx="1174" cy="797" r="12"/></g><g id="n14"><circle cx="1186" cy="792" r="6.5"/></g><g id="n15"><circle cx="1215" cy="790" r="6.5"/></g><g id="n16"><circle cx="1208" cy="750" r="14"/></g><g id="n17"><circle cx="1292" cy="770" r="9"/></g><g id="n18"><circle cx="1298" cy="798" r="7.5"/></g><g id="n19"><circle cx="1255" cy="852" r="8.5"/></g><g id="n20"><circle cx="1294" cy="872" r="7.5"/></g><g id="n21"><circle cx="1255" cy="886" r="6.5"/></g><g id="n22"><circle cx="1234" cy="907" r="6.5"/></g><g id="n23"><circle cx="1257" cy="922" r="6.5"/></g><g id="n24"><circle cx="1163" cy="934" r="7.5"/></g><g id="n25"><circle cx="1184" cy="936" r="5.5"/></g><g id="n26"><circle cx="1166" cy="969" r="8.5"/></g><g id="n27"><circle cx="1195" cy="965" r="7.5"/></g><g id="n28"><circle cx="1104" cy="975" r="6.5"/></g><g id="n29"><circle cx="1042" cy="961" r="7"/></g><g id="n30"><circle cx="1071" cy="874" r="5.6"/></g><g id="n31"><circle cx="1079" cy="894" r="6.5"/></g><g id="n32"><circle cx="1075" cy="797" r="6.5"/></g><g id="n33"><circle cx="1088" cy="826" r="8"/></g><g id="n34"><circle cx="1102" cy="824" r="6.5"/></g><g id="n35"><circle cx="1041" cy="831" r="18"/></g><g id="n36"><circle cx="1190" cy="1012" r="4.6"/></g><g id="n37"><circle cx="1237" cy="1021" r="5.6"/></g><g id="n38"><circle cx="1204" cy="1026" r="5.6"/></g><g id="n39"><circle cx="1037" cy="1026" r="6"/></g><g id="n40"><circle cx="1205" cy="604" r="11"/></g><g id="n41"><circle cx="1245" cy="590" r="5.5"/></g><g id="n42"><circle cx="1194" cy="655" r="13"/></g><g id="n43"><circle cx="1277" cy="672" r="7"/></g><g id="n44"><circle cx="1181" cy="711" r="9"/></g><g id="n45"><circle cx="1159" cy="722" r="14"/></g><g id="n46"><circle cx="1093" cy="696" r="24"/></g><g id="n47"><circle cx="1062" cy="739" r="6"/></g><g id="n48"><circle cx="1009" cy="757" r="9"/></g><g id="n49"><circle cx="1020" cy="676" r="6"/></g><g id="n50"><circle cx="1007" cy="641" r="5"/></g><g id="n51"><circle cx="961" cy="639" r="7.5"/></g><g id="n52"><circle cx="959" cy="798" r="9"/></g><g id="n53"><circle cx="957" cy="815" r="7"/></g><g id="n54"><circle cx="1009" cy="891" r="7"/></g><g id="n55"><circle cx="1016" cy="961" r="7"/></g><g id="n56"><circle cx="1067" cy="1059" r="5"/></g><g id="n57"><circle cx="1235" cy="1064" r="4"/></g><g id="n58"><circle cx="828" cy="878" r="5"/></g><g id="n59"><circle cx="868" cy="868" r="4"/></g><g id="n60"><circle cx="946" cy="509" r="15"/></g><g id="n61"><circle cx="1034" cy="514" r="25"/></g><g id="n62"><circle cx="705" cy="590" r="4"/></g>
</g>
<g class="d">
<g id="d1"><circle cx="1036" cy="846" r="25"/></g><g id="d2"><circle cx="952" cy="880" r="18"/></g><g id="d3"><circle cx="992" cy="920" r="10"/></g><g id="d4"><circle cx="918" cy="924" r="6.5"/></g><g id="d5"><circle cx="1096" cy="920" r="6"/></g><g id="d6"><circle cx="1120" cy="934" r="5.6"/></g><g id="d7"><circle cx="1142" cy="935" r="6.4"/></g><g id="d8"><circle cx="1225" cy="930" r="5.6"/></g><g id="d9"><circle cx="1144" cy="961" r="5.6"/></g><g id="d10"><circle cx="1053" cy="952" r="12"/></g><g id="d11"><circle cx="1077" cy="966" r="10.5"/></g><g id="d12"><circle cx="1058" cy="992" r="6.3"/></g><g id="d13"><circle cx="1096" cy="986" r="6.3"/></g><g id="d14"><circle cx="1122" cy="982" r="4.6"/></g><g id="d15"><circle cx="1165" cy="989" r="5.6"/></g><g id="d16"><circle cx="1183" cy="988" r="4.6"/></g><g id="d17"><circle cx="1227" cy="983" r="10"/></g><g id="d18"><circle cx="1117" cy="1003" r="18"/></g><g id="d19"><circle cx="1079" cy="1007" r="6"/></g><g id="d20"><circle cx="1143" cy="1033" r="32"/></g><g id="d21"><circle cx="1157" cy="1065" r="21"/></g><g id="d22"><circle cx="1115" cy="1064" r="16"/></g><g id="d23"><circle cx="1095" cy="1034" r="19"/></g><g id="d24"><circle cx="1073" cy="1023" r="11"/></g><g id="d25"><circle cx="1051" cy="1036" r="20"/></g><g id="d26"><circle cx="987" cy="990" r="16"/></g><g id="d27"><circle cx="1012" cy="993" r="5"/></g><g id="d28"><circle cx="1019" cy="939" r="4"/></g><g id="d29"><circle cx="993" cy="1020" r="7"/></g><g id="d30"><circle cx="1035" cy="1017" r="6"/></g><g id="d31"><circle cx="1030" cy="1003" r="4"/></g><g id="d32"><circle cx="963" cy="1050" r="7"/></g><g id="d33"><circle cx="890" cy="1077" r="14"/></g><g id="d34"><circle cx="840" cy="1047" r="6"/></g><g id="d35"><circle cx="816" cy="1052" r="4"/></g><g id="d36"><circle cx="834" cy="1012" r="7"/></g><g id="d37"><circle cx="862" cy="997" r="9"/></g><g id="d38"><circle cx="842" cy="1092" r="7"/></g><g id="d39"><circle cx="1051" cy="1100" r="17"/></g><g id="d40"><circle cx="1016" cy="1116" r="11"/></g><g id="d41"><circle cx="1030" cy="1126" r="8"/></g><g id="d42"><circle cx="1003" cy="1127" r="7"/></g><g id="d43"><circle cx="1015" cy="1141" r="10"/></g><g id="d44"><circle cx="1018" cy="1162" r="11"/></g><g id="d45"><circle cx="996" cy="1107" r="5"/></g><g id="d46"><circle cx="1075" cy="1076" r="5"/></g><g id="d47"><circle cx="1091" cy="1103" r="11"/></g><g id="d48"><circle cx="1059" cy="1081" r="6"/></g><g id="d49"><circle cx="1134" cy="1110" r="17"/></g><g id="d50"><circle cx="1144" cy="1094" r="15"/></g><g id="d51"><circle cx="1181" cy="1118" r="11"/></g><g id="d52"><circle cx="1195" cy="1095" r="5"/></g><g id="d53"><circle cx="1215" cy="1049" r="6.5"/></g><g id="d54"><circle cx="1201" cy="1056" r="4"/></g><g id="d55"><circle cx="1110" cy="1108" r="7"/></g><g id="d56"><circle cx="1155" cy="1140" r="4.5"/></g><g id="d57"><circle cx="1128" cy="1161" r="7"/></g><g id="d58"><circle cx="1121" cy="1177" r="8"/></g><g id="d59"><circle cx="1214" cy="1207" r="7"/></g><g id="d60"><circle cx="1257" cy="1123" r="6"/></g><g id="d61"><circle cx="1280" cy="1102" r="4"/></g><g id="d62"><circle cx="1072" cy="1177" r="4"/></g><g id="d63"><circle cx="993" cy="1220" r="6"/></g><g id="d64"><circle cx="1028" cy="1204" r="4"/></g><g id="d65"><circle cx="933" cy="1110" r="4"/></g><g id="d66"><circle cx="930" cy="1130" r="4"/></g><g id="d67"><circle cx="922" cy="1192" r="5"/></g><g id="d68"><circle cx="886" cy="1000" r="4"/></g><g id="d69"><circle cx="944" cy="1006" r="5"/></g><g id="d70"><circle cx="924" cy="953" r="4"/></g><g id="d71"><circle cx="789" cy="1131" r="5"/></g><g id="d72"><circle cx="748" cy="1102" r="4"/></g><g id="d73"><circle cx="683" cy="1097" r="5"/></g><g id="d74"><circle cx="632" cy="1118" r="5"/></g><g id="d75"><circle cx="943" cy="1132" r="4"/></g><g id="d76"><circle cx="1146" cy="1220" r="3.5"/></g>
</g>
<g class="c">
<g id="c1"><circle cx="733" cy="610" r="10"/></g><g id="c2"><circle cx="806" cy="628" r="7"/></g><g id="c3"><circle cx="861" cy="605" r="11"/></g><g id="c4"><circle cx="878" cy="635" r="5.5"/></g><g id="c5"><circle cx="892" cy="630" r="8"/></g><g id="c6"><circle cx="683" cy="753" r="5.5"/></g><g id="c7"><circle cx="733" cy="746" r="4.5"/></g><g id="c8"><circle cx="763" cy="765" r="6.5"/></g>
</g>
<g class="l">
<g id="l1"><circle cx="960" cy="572" r="33"/></g><g id="l2"><circle cx="839" cy="534" r="20"/></g><g id="l3"><circle cx="936" cy="549" r="16"/></g><g id="l4"><circle cx="1000" cy="544" r="10"/></g><g id="l5"><circle cx="848" cy="486" r="13"/></g><g id="l6"><circle cx="879" cy="580" r="10"/></g><g id="l7"><circle cx="927" cy="618" r="9"/></g><g id="l8"><circle cx="1054" cy="613" r="11"/></g><g id="l9"><circle cx="1108" cy="637" r="13"/></g><g id="l10"><circle cx="1036" cy="683" r="12"/></g><g id="l11"><circle cx="1058" cy="681" r="8"/></g><g id="l12"><circle cx="1065" cy="651" r="5.5"/></g><g id="l13"><circle cx="993" cy="604" r="5"/></g><g id="l14"><circle cx="976" cy="725" r="5.5"/></g><g id="l15"><circle cx="982" cy="775" r="5.5"/></g><g id="l16"><circle cx="1017" cy="431" r="4"/></g><g id="l17"><circle cx="1087" cy="498" r="4"/></g><g id="l18"><circle cx="921" cy="309" r="7"/></g><g id="l19"><circle cx="871" cy="434" r="8"/></g><g id="l20"><circle cx="915" cy="382" r="6"/></g><g id="l21"><circle cx="943" cy="450" r="6"/></g><g id="l22"><circle cx="872" cy="501" r="7"/></g><g id="l23"><circle cx="963" cy="526" r="6"/></g><g id="l24"><circle cx="989" cy="520" r="5"/></g><g id="l25"><circle cx="792" cy="460" r="8"/></g><g id="l26"><circle cx="815" cy="670" r="5"/></g><g id="l27"><circle cx="824" cy="710" r="5"/></g><g id="l28"><circle cx="768" cy="626" r="7"/></g><g id="l29"><circle cx="752" cy="799" r="5"/></g><g id="l30"><circle cx="455" cy="809" r="4.5"/></g><g id="l31"><circle cx="547" cy="644" r="5"/></g><g id="l32"><circle cx="899" cy="574" r="5"/></g><g id="l33"><circle cx="729" cy="234" r="5"/></g>
</g>
<g class="b">
<g id="b1"><circle cx="867" cy="363" r="21"/></g><g id="b2"><circle cx="765" cy="325" r="21"/></g><g id="b3"><circle cx="921" cy="363" r="15"/></g><g id="b4"><circle cx="944" cy="401" r="15"/></g><g id="b5"><circle cx="903" cy="423" r="12"/></g><g id="b6"><circle cx="891" cy="310" r="11"/></g><g id="b7"><circle cx="867" cy="288" r="12"/></g><g id="b8"><circle cx="832" cy="263" r="13"/></g><g id="b9"><circle cx="873" cy="187" r="10"/></g><g id="b10"><circle cx="885" cy="140" r="5.5"/></g><g id="b11"><circle cx="835" cy="164" r="7"/></g><g id="b12"><circle cx="753" cy="174" r="6"/></g><g id="b13"><circle cx="774" cy="197" r="5"/></g><g id="b14"><circle cx="838" cy="195" r="5.5"/></g><g id="b15"><circle cx="851" cy="212" r="7.5"/></g><g id="b16"><circle cx="887" cy="225" r="9"/></g><g id="b17"><circle cx="959" cy="217" r="5.5"/></g><g id="b18"><circle cx="905" cy="268" r="8"/></g><g id="b19"><circle cx="869" cy="251" r="4.5"/></g><g id="b20"><circle cx="783" cy="225" r="5"/></g><g id="b21"><circle cx="775" cy="249" r="4.5"/></g><g id="b22"><circle cx="671" cy="246" r="7.5"/></g><g id="b23"><circle cx="621" cy="278" r="9"/></g><g id="b24"><circle cx="610" cy="220" r="5"/></g><g id="b25"><circle cx="630" cy="227" r="5"/></g><g id="b26"><circle cx="684" cy="280" r="11"/></g><g id="b27"><circle cx="680" cy="298" r="12"/></g><g id="b28"><circle cx="704" cy="286" r="10"/></g><g id="b29"><circle cx="690" cy="309" r="9"/></g><g id="b30"><circle cx="713" cy="320" r="9"/></g><g id="b31"><circle cx="729" cy="318" r="11"/></g><g id="b32"><circle cx="771" cy="298" r="12"/></g><g id="b33"><circle cx="797" cy="288" r="8"/></g><g id="b34"><circle cx="817" cy="325" r="5"/></g><g id="b35"><circle cx="858" cy="325" r="5.5"/></g><g id="b36"><circle cx="938" cy="293" r="5"/></g><g id="b37"><circle cx="954" cy="319" r="8"/></g><g id="b38"><circle cx="880" cy="412" r="5"/></g><g id="b39"><circle cx="925" cy="403" r="6"/></g><g id="b40"><circle cx="698" cy="337" r="5"/></g><g id="b41"><circle cx="734" cy="355" r="7"/></g><g id="b42"><circle cx="797" cy="368" r="8"/></g><g id="b43"><circle cx="795" cy="438" r="5.5"/></g><g id="b44"><circle cx="647" cy="439" r="8"/></g><g id="b45"><circle cx="677" cy="484" r="5.5"/></g><g id="b46"><circle cx="1060" cy="308" r="6.5"/></g><g id="b47"><circle cx="1076" cy="356" r="5.5"/></g><g id="b48"><circle cx="1030" cy="398" r="6.5"/></g><g id="b49"><circle cx="1090" cy="476" r="8.5"/></g><g id="b50"><circle cx="1089" cy="549" r="12"/></g>
</g>
<g class="q">
<g id="q1"><circle cx="586" cy="222" r="4"/></g><g id="q2"><circle cx="645" cy="316" r="6"/></g><g id="q3"><circle cx="664" cy="340" r="5"/></g><g id="q4"><circle cx="650" cy="358" r="6"/></g><g id="q5"><circle cx="695" cy="424" r="9"/></g><g id="q6"><circle cx="709" cy="497" r="5"/></g>
</g>
<g class="p">
<g id="p1"><circle cx="815" cy="395" r="18"/></g><g id="p2"><circle cx="826" cy="363" r="11"/></g><g id="p3"><circle cx="753" cy="357" r="11"/></g><g id="p4"><circle cx="754" cy="378" r="11"/></g><g id="p5"><circle cx="754" cy="394" r="11"/></g><g id="p6"><circle cx="707" cy="406" r="15"/></g><g id="p7"><circle cx="727" cy="412" r="13"/></g><g id="p8"><circle cx="723" cy="431" r="9"/></g><g id="p9"><circle cx="740" cy="436" r="6"/></g><g id="p10"><circle cx="716" cy="303" r="12"/></g><g id="p11"><circle cx="692" cy="270" r="9"/></g><g id="p12"><circle cx="658" cy="315" r="8"/></g><g id="p13"><circle cx="630" cy="307" r="5"/></g><g id="p14"><circle cx="643" cy="282" r="5"/></g><g id="p15"><circle cx="736" cy="172" r="5.5"/></g><g id="p16"><circle cx="785" cy="206" r="7"/></g><g id="p17"><circle cx="755" cy="227" r="5.5"/></g><g id="p18"><circle cx="797" cy="245" r="5"/></g><g id="p19"><circle cx="748" cy="250" r="4"/></g><g id="p20"><circle cx="777" cy="282" r="5"/></g><g id="p21"><circle cx="733" cy="292" r="6"/></g><g id="p22"><circle cx="808" cy="300" r="5"/></g><g id="p23"><circle cx="887" cy="278" r="7"/></g><g id="p24"><circle cx="727" cy="368" r="5"/></g><g id="p25"><circle cx="685" cy="372" r="7"/></g><g id="p26"><circle cx="703" cy="355" r="5"/></g><g id="p27"><circle cx="703" cy="384" r="6"/></g><g id="p28"><circle cx="813" cy="441" r="6.5"/></g><g id="p29"><circle cx="848" cy="450" r="7"/></g><g id="p30"><circle cx="797" cy="480" r="9"/></g><g id="p31"><circle cx="755" cy="485" r="9"/></g><g id="p32"><circle cx="640" cy="465" r="6"/></g><g id="p33"><circle cx="612" cy="453" r="6"/></g><g id="p34"><circle cx="724" cy="519" r="8"/></g><g id="p35"><circle cx="651" cy="516" r="7"/></g><g id="p36"><circle cx="772" cy="602" r="9"/></g><g id="p37"><circle cx="792" cy="619" r="5"/></g><g id="p38"><circle cx="741" cy="859" r="4.5"/></g><g id="p39"><circle cx="805" cy="382" r="8"/></g>
</g>
<g class="y">
<g id="y3"><circle cx="778" cy="585" r="17"/></g><g id="y2"><circle cx="735" cy="553" r="20"/></g><g id="y1"><circle cx="773" cy="544" r="44"/></g><g id="y4"><circle cx="713" cy="460" r="20"/></g><g id="y5"><circle cx="775" cy="471" r="16"/></g><g id="y6"><circle cx="637" cy="486" r="15"/></g><g id="y7"><circle cx="582" cy="500" r="18"/></g><g id="y8"><circle cx="636" cy="435" r="12"/></g><g id="y9"><circle cx="623" cy="351" r="14"/></g><g id="y10"><circle cx="622" cy="324" r="12"/></g><g id="y11"><circle cx="537" cy="289" r="17"/></g><g id="y12"><circle cx="612" cy="243" r="14"/></g><g id="y13"><circle cx="512" cy="340" r="14"/></g><g id="y14"><circle cx="518" cy="317" r="11"/></g><g id="y15"><circle cx="542" cy="343" r="8"/></g><g id="y16"><circle cx="537" cy="317" r="7"/></g><g id="y17"><circle cx="560" cy="300" r="7"/></g><g id="y18"><circle cx="561" cy="273" r="8"/></g><g id="y19"><circle cx="590" cy="274" r="9"/></g><g id="y20"><circle cx="587" cy="300" r="5"/></g><g id="y21"><circle cx="573" cy="263" r="5"/></g><g id="y22"><circle cx="516" cy="238" r="5"/></g><g id="y23"><circle cx="471" cy="204" r="7"/></g><g id="y24"><circle cx="472" cy="282" r="7"/></g><g id="y25"><circle cx="444" cy="291" r="7"/></g><g id="y26"><circle cx="433" cy="302" r="5"/></g><g id="y27"><circle cx="408" cy="318" r="7"/></g><g id="y28"><circle cx="378" cy="325" r="9"/></g><g id="y29"><circle cx="437" cy="322" r="6"/></g><g id="y30"><circle cx="480" cy="325" r="5"/></g><g id="y31"><circle cx="421" cy="348" r="5"/></g><g id="y32"><circle cx="428" cy="373" r="6"/></g><g id="y33"><circle cx="395" cy="423" r="5"/></g><g id="y34"><circle cx="430" cy="424" r="8"/></g><g id="y35"><circle cx="445" cy="469" r="5"/></g><g id="y36"><circle cx="477" cy="433" r="5"/></g><g id="y37"><circle cx="453" cy="506" r="6"/></g><g id="y38"><circle cx="499" cy="520" r="7"/></g><g id="y39"><circle cx="611" cy="291" r="7"/></g><g id="y40"><circle cx="630" cy="368" r="7"/></g><g id="y41"><circle cx="652" cy="376" r="7"/></g><g id="y42"><circle cx="683" cy="352" r="9"/></g><g id="y43"><circle cx="721" cy="350" r="7"/></g><g id="y44"><circle cx="776" cy="351" r="8"/></g><g id="y45"><circle cx="780" cy="379" r="14"/></g><g id="y46"><circle cx="784" cy="411" r="10"/></g><g id="y47"><circle cx="802" cy="352" r="5"/></g><g id="y48"><circle cx="823" cy="308" r="5"/></g><g id="y49"><circle cx="852" cy="246" r="5"/></g><g id="y50"><circle cx="882" cy="329" r="7"/></g><g id="y51"><circle cx="949" cy="343" r="4"/></g><g id="y52"><circle cx="949" cy="378" r="6"/></g><g id="y53"><circle cx="904" cy="471" r="6"/></g><g id="y54"><circle cx="928" cy="472" r="6"/></g><g id="y55"><circle cx="895" cy="512" r="9"/></g><g id="y56"><circle cx="892" cy="544" r="6"/></g><g id="y57"><circle cx="814" cy="472" r="8"/></g><g id="y58"><circle cx="755" cy="433" r="5.5"/></g><g id="y59"><circle cx="693" cy="542" r="6"/></g><g id="y60"><circle cx="688" cy="558" r="7"/></g><g id="y61"><circle cx="663" cy="657" r="6"/></g><g id="y62"><circle cx="838" cy="626" r="13"/></g><g id="y63"><circle cx="917" cy="645" r="11"/></g><g id="y64"><circle cx="890" cy="698" r="16"/></g><g id="y65"><circle cx="745" cy="275" r="6"/></g><g id="y66"><circle cx="689" cy="320" r="5"/></g><g id="y67"><circle cx="607" cy="339" r="5"/></g><g id="y68"><circle cx="658" cy="480" r="6"/></g><g id="y69"><circle cx="733" cy="397" r="5"/></g>
</g>
<g class="r">
<g id="r1"><circle cx="533" cy="571" r="33"/></g><g id="r2"><circle cx="595" cy="380" r="35"/></g><g id="r3"><circle cx="600" cy="438" r="17"/></g><g id="r4"><circle cx="558" cy="333" r="13"/></g><g id="r5"><circle cx="557" cy="350" r="8"/></g><g id="r6"><circle cx="441" cy="589" r="17"/></g><g id="r7"><circle cx="454" cy="628" r="11"/></g><g id="r8"><circle cx="414" cy="583" r="8"/></g><g id="r9"><circle cx="392" cy="607" r="5.5"/></g><g id="r10"><circle cx="440" cy="602" r="5"/></g><g id="r11"><circle cx="505" cy="615" r="7"/></g><g id="r12"><circle cx="529" cy="608" r="6"/></g><g id="r13"><circle cx="492" cy="592" r="6"/></g><g id="r14"><circle cx="520" cy="592" r="5"/></g><g id="r15"><circle cx="552" cy="590" r="6"/></g><g id="r16"><circle cx="567" cy="549" r="10"/></g><g id="r17"><circle cx="557" cy="491" r="10"/></g><g id="r18"><circle cx="553" cy="511" r="5"/></g><g id="r19"><circle cx="564" cy="528" r="7"/></g><g id="r20"><circle cx="551" cy="541" r="6"/></g><g id="r21"><circle cx="546" cy="421" r="10"/></g><g id="r22"><circle cx="550" cy="399" r="8"/></g><g id="r23"><circle cx="537" cy="374" r="9"/></g><g id="r24"><circle cx="537" cy="260" r="9"/></g><g id="r25"><circle cx="582" cy="201" r="6"/></g><g id="r26"><circle cx="626" cy="259" r="7"/></g><g id="r27"><circle cx="574" cy="289" r="5"/></g><g id="r28"><circle cx="490" cy="304" r="7"/></g><g id="r29"><circle cx="511" cy="295" r="7"/></g><g id="r30"><circle cx="579" cy="322" r="6"/></g><g id="r31"><circle cx="473" cy="357" r="5"/></g><g id="r32"><circle cx="463" cy="383" r="8"/></g><g id="r33"><circle cx="453" cy="398" r="9"/></g><g id="r34"><circle cx="497" cy="388" r="8"/></g><g id="r35"><circle cx="474" cy="407" r="6"/></g><g id="r36"><circle cx="430" cy="392" r="4"/></g><g id="r37"><circle cx="407" cy="412" r="5"/></g><g id="r38"><circle cx="419" cy="434" r="6"/></g><g id="r39"><circle cx="439" cy="438" r="5"/></g><g id="r40"><circle cx="434" cy="451" r="6"/></g><g id="r41"><circle cx="413" cy="455" r="10"/></g><g id="r42"><circle cx="408" cy="471" r="8"/></g><g id="r43"><circle cx="381" cy="468" r="8"/></g><g id="r44"><circle cx="323" cy="449" r="6"/></g><g id="r45"><circle cx="329" cy="508" r="5"/></g><g id="r46"><circle cx="358" cy="546" r="6"/></g><g id="r47"><circle cx="403" cy="513" r="10"/></g><g id="r48"><circle cx="429" cy="527" r="9"/></g><g id="r49"><circle cx="454" cy="532" r="7"/></g><g id="r50"><circle cx="471" cy="484" r="9"/></g><g id="r51"><circle cx="469" cy="450" r="5.5"/></g><g id="r52"><circle cx="500" cy="469" r="9"/></g><g id="r53"><circle cx="501" cy="499" r="8"/></g><g id="r54"><circle cx="483" cy="515" r="8"/></g><g id="r55"><circle cx="510" cy="484" r="5"/></g><g id="r56"><circle cx="516" cy="507" r="7"/></g><g id="r57"><circle cx="516" cy="523" r="7"/></g><g id="r58"><circle cx="497" cy="529" r="5"/></g><g id="r59"><circle cx="486" cy="545" r="5"/></g><g id="r60"><circle cx="497" cy="561" r="6"/></g><g id="r61"><circle cx="532" cy="535" r="5"/></g><g id="r62"><circle cx="529" cy="448" r="5"/></g><g id="r63"><circle cx="524" cy="426" r="6"/></g><g id="r64"><circle cx="503" cy="444" r="5"/></g><g id="r65"><circle cx="518" cy="396" r="5"/></g><g id="r66"><circle cx="570" cy="403" r="7"/></g><g id="r67"><circle cx="613" cy="391" r="7"/></g><g id="r68"><circle cx="629" cy="404" r="6"/></g><g id="r69"><circle cx="606" cy="417" r="5"/></g><g id="r70"><circle cx="613" cy="649" r="11"/></g><g id="r71"><circle cx="564" cy="643" r="9"/></g><g id="r72"><circle cx="547" cy="656" r="7"/></g><g id="r73"><circle cx="557" cy="629" r="4"/></g><g id="r74"><circle cx="598" cy="569" r="5"/></g><g id="r75"><circle cx="612" cy="530" r="6"/></g><g id="r76"><circle cx="664" cy="520" r="7"/></g><g id="r77"><circle cx="679" cy="540" r="8"/></g><g id="r78"><circle cx="671" cy="572" r="4"/></g><g id="r79"><circle cx="694" cy="699" r="10"/></g><g id="r80"><circle cx="516" cy="718" r="5.5"/></g><g id="r81"><circle cx="472" cy="706" r="6"/></g><g id="r82"><circle cx="452" cy="668" r="7"/></g><g id="r83"><circle cx="449" cy="684" r="8"/></g><g id="r84"><circle cx="423" cy="701" r="4"/></g><g id="r85"><circle cx="402" cy="735" r="4.5"/></g><g id="r86"><circle cx="381" cy="780" r="8"/></g><g id="r87"><circle cx="506" cy="784" r="4"/></g><g id="r88"><circle cx="466" cy="801" r="4.5"/></g><g id="r89"><circle cx="414" cy="808" r="5"/></g><g id="r90"><circle cx="401" cy="815" r="5"/></g><g id="r91"><circle cx="398" cy="852" r="8"/></g><g id="r92"><circle cx="407" cy="879" r="4"/></g><g id="r93"><circle cx="330" cy="815" r="4"/></g><g id="r94"><circle cx="309" cy="822" r="4"/></g><g id="r95"><circle cx="555" cy="560" r="4"/></g><g id="r96"><circle cx="553" cy="587" r="5"/></g><g id="r97"><circle cx="541" cy="593" r="4"/></g><g id="r98"><circle cx="672" cy="418" r="5"/></g>
</g>
</g>
<g id="recycle-battery">
<path class="icon" d="M2070 2227A175 175 0 0 1 2255 2398M2210 2362L2256 2405L2289 2346"/>
<path class="icon" d="M2253 2425A175 175 0 0 1 1935 2504M1997 2502L1933 2502L1953 2567"/>
<path class="icon" style="stroke:#c2c2c2" d="M1924 2485A175 175 0 0 1 2051 2229M1987 2206L2053 2228L2018 2280"/>
<path fill="#a8a8a8" stroke="#8c8c8c" stroke-width="11" stroke-linejoin="round" d="M2042 2310H2060V2295Q2060 2283 2072 2283H2088Q2100 2283 2100 2295V2310H2117Q2129 2310 2129 2322V2510Q2129 2522 2117 2522H2042Q2030 2522 2030 2510V2322Q2030 2310 2042 2310Z"/>
<path fill="none" stroke="#8c8c8c" stroke-width="8" stroke-linecap="round" d="M2079 2333V2363M2066 2348H2092M2066 2483H2092"/>
</g>
</svg>
